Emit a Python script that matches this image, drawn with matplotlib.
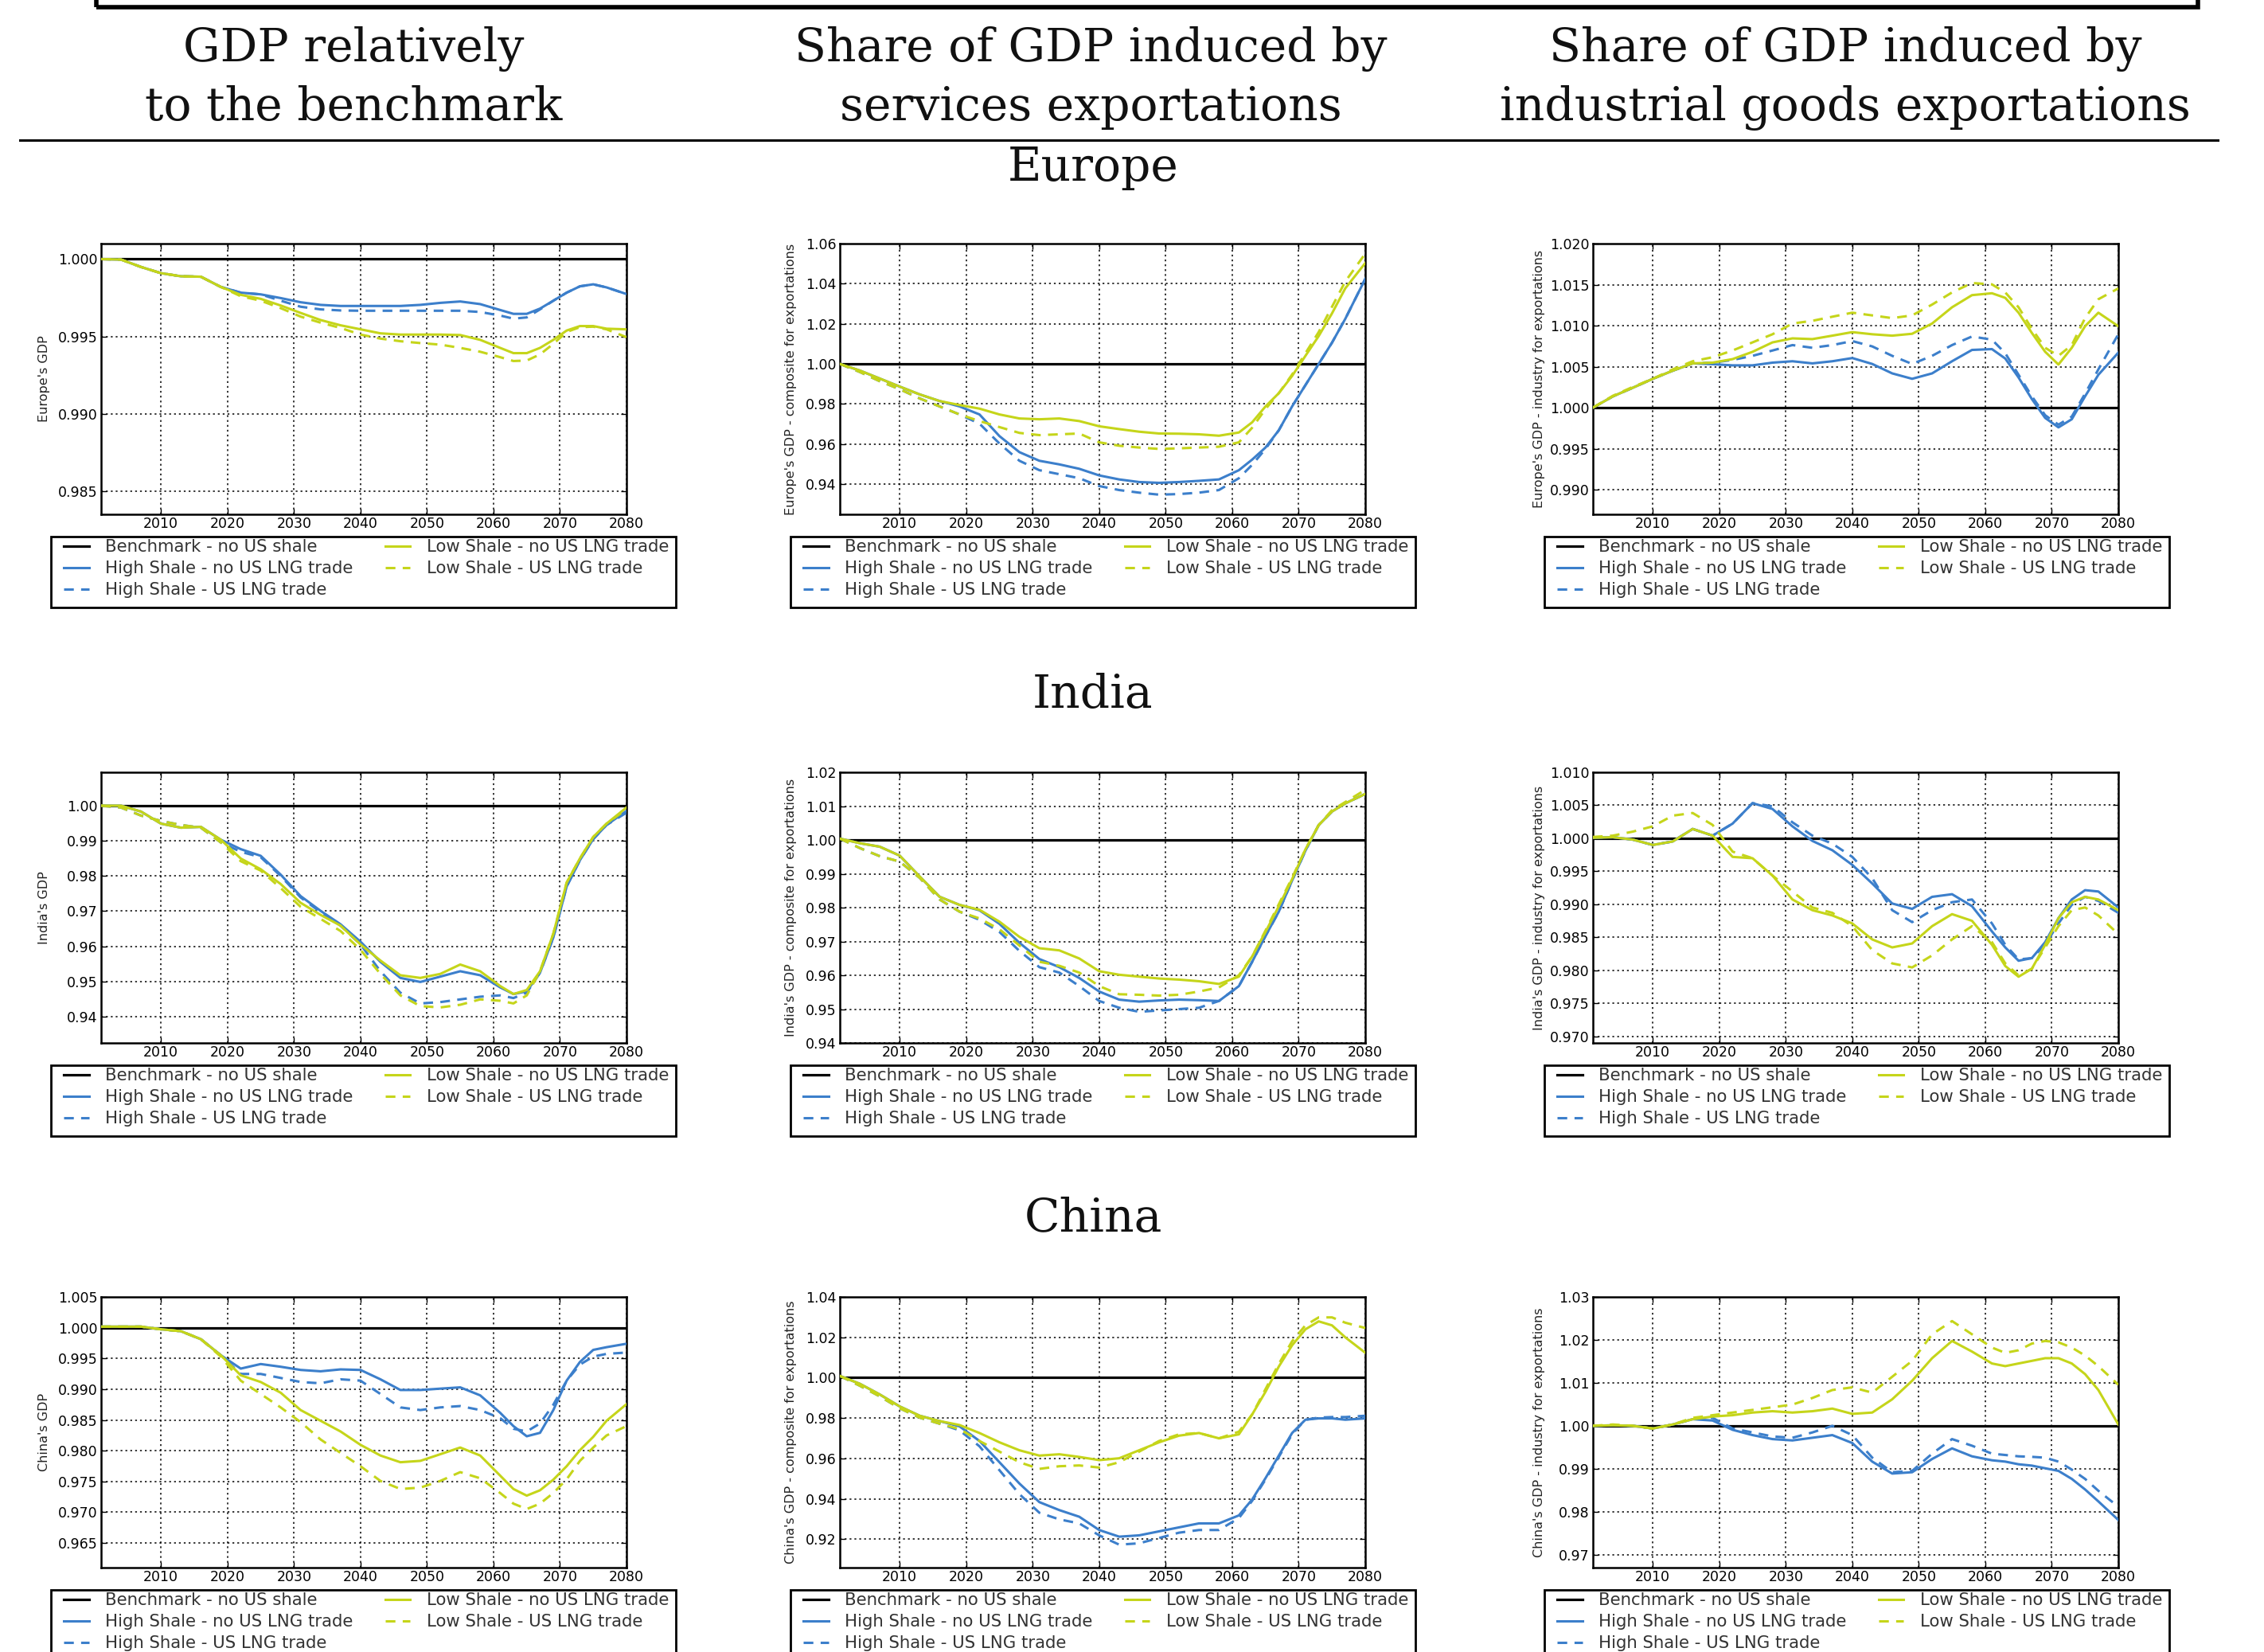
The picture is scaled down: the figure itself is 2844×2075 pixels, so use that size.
import matplotlib
matplotlib.use("Agg")
import matplotlib.pyplot as plt
from matplotlib.patches import Rectangle
from matplotlib.lines import Line2D
from matplotlib.ticker import FixedLocator, FormatStrFormatter

W, H, DPI = 2844, 2075, 100

# ---------------------------------------------------------------- data
years = [2001, 2004, 2007, 2010, 2013, 2016, 2019, 2022, 2025, 2028,
         2031, 2034, 2037, 2040, 2043, 2046, 2049, 2052, 2055, 2058,
         2061, 2063, 2065, 2067, 2069, 2071, 2073, 2075, 2077, 2080]
year_ticks = [2010, 2020, 2030, 2040, 2050, 2060, 2070, 2080]
benchmark_level = 1.0

series_labels = ["Benchmark - no US shale",
                 "High Shale - no US LNG trade",
                 "High Shale - US LNG trade",
                 "Low Shale - no US LNG trade",
                 "Low Shale - US LNG trade"]

# Europe - GDP relative to benchmark
eu_gdp_high = [1.0000, 0.99997, 0.99949, 0.99909, 0.99889, 0.99886, 0.99820, 0.99783, 0.99772, 0.99748,
               0.99721, 0.99704, 0.99697, 0.99697, 0.99697, 0.99697, 0.99704, 0.99717, 0.99726, 0.99709,
               0.99671, 0.99646, 0.99646, 0.99680, 0.99731, 0.99783, 0.99824, 0.99837, 0.99817, 0.99774]
eu_gdp_high_lng = [1.0000, 0.99997, 0.99949, 0.99909, 0.99889, 0.99886, 0.99820, 0.99783, 0.99772, 0.99731,
                   0.99692, 0.99675, 0.99668, 0.99666, 0.99666, 0.99666, 0.99666, 0.99666, 0.99666, 0.99658,
                   0.99635, 0.99615, 0.99623, 0.99675, 0.99731, 0.99783, 0.99824, 0.99837, 0.99817, 0.99774]
eu_gdp_low = [1.0000, 0.99997, 0.99949, 0.99909, 0.99889, 0.99886, 0.99820, 0.99769, 0.99743, 0.99700,
              0.99652, 0.99606, 0.99572, 0.99546, 0.99520, 0.99512, 0.99512, 0.99512, 0.99509, 0.99478,
              0.99426, 0.99392, 0.99392, 0.99426, 0.99478, 0.99538, 0.99567, 0.99567, 0.99550, 0.99546]
eu_gdp_low_lng = [1.0000, 0.99997, 0.99949, 0.99909, 0.99889, 0.99886, 0.99820, 0.99760, 0.99731, 0.99683,
                  0.99628, 0.99589, 0.99555, 0.99512, 0.99486, 0.99469, 0.99457, 0.99447, 0.99426, 0.99401,
                  0.99366, 0.99341, 0.99344, 0.99384, 0.99452, 0.99529, 0.99560, 0.99563, 0.99546, 0.99495]

# Europe - composite for exportations (services)
eu_serv_high = [1.0, 0.9967, 0.9927, 0.9887, 0.9848, 0.9815, 0.9788, 0.9748, 0.9640, 0.9560,
                0.9517, 0.9499, 0.9477, 0.9444, 0.9424, 0.9411, 0.9407, 0.9411, 0.9417, 0.9424,
                0.9470, 0.9523, 0.9583, 0.9669, 0.9788, 0.9894, 1.0000, 1.0106, 1.0225, 1.0424]
eu_serv_high_lng = [1.0, 0.9960, 0.9914, 0.9874, 0.9828, 0.9788, 0.9748, 0.9702, 0.9603, 0.9517,
                    0.9470, 0.9450, 0.9430, 0.9391, 0.9371, 0.9358, 0.9348, 0.9351, 0.9358, 0.9371,
                    0.9430, 0.9497, 0.9576, 0.9669, 0.9788, 0.9894, 1.0000, 1.0106, 1.0225, 1.0424]
eu_serv_low = [1.0, 0.9967, 0.9927, 0.9887, 0.9848, 0.9815, 0.9795, 0.9777, 0.9748, 0.9728,
               0.9724, 0.9728, 0.9715, 0.9689, 0.9675, 0.9662, 0.9653, 0.9652, 0.9649, 0.9642,
               0.9658, 0.9709, 0.9788, 0.9854, 0.9940, 1.0040, 1.0139, 1.0252, 1.0377, 1.0503]
eu_serv_low_lng = [1.0, 0.9960, 0.9914, 0.9874, 0.9828, 0.9788, 0.9748, 0.9715, 0.9685, 0.9656,
                   0.9645, 0.9649, 0.9653, 0.9609, 0.9592, 0.9583, 0.9576, 0.9579, 0.9583, 0.9587,
                   0.9609, 0.9682, 0.9775, 0.9854, 0.9947, 1.0053, 1.0159, 1.0285, 1.0411, 1.0550]

# Europe - industry for exportations
eu_ind_high = [1.0, 1.00138, 1.00243, 1.00352, 1.00451, 1.00540, 1.00530, 1.00516, 1.00516, 1.00549,
               1.00566, 1.00540, 1.00566, 1.00605, 1.00533, 1.00418, 1.00352, 1.00418, 1.00566, 1.00704,
               1.00714, 1.00599, 1.00368, 1.00105, 0.99875, 0.99760, 0.99859, 1.00138, 1.00401, 1.00671]
eu_ind_high_lng = [1.0, 1.00138, 1.00243, 1.00352, 1.00451, 1.00540, 1.00549, 1.00582, 1.00632, 1.00697,
                   1.00763, 1.00730, 1.00763, 1.00812, 1.00747, 1.00632, 1.00533, 1.00632, 1.00763, 1.00868,
                   1.00829, 1.00664, 1.00401, 1.00138, 0.99908, 0.99793, 0.99891, 1.00171, 1.00467, 1.00895]
eu_ind_low = [1.0, 1.00138, 1.00243, 1.00352, 1.00451, 1.00540, 1.00549, 1.00592, 1.00681, 1.00796,
              1.00845, 1.00836, 1.00878, 1.00921, 1.00895, 1.00878, 1.00901, 1.01026, 1.01224, 1.01372,
              1.01395, 1.01339, 1.01158, 1.00911, 1.00681, 1.00526, 1.00730, 1.00993, 1.01158, 1.00993]
eu_ind_low_lng = [1.0, 1.00145, 1.00253, 1.00352, 1.00467, 1.00566, 1.00615, 1.00697, 1.00796, 1.00895,
                  1.01026, 1.01059, 1.01109, 1.01158, 1.01125, 1.01092, 1.01125, 1.01257, 1.01405, 1.01520,
                  1.01503, 1.01405, 1.01224, 1.00961, 1.00730, 1.00632, 1.00763, 1.01092, 1.01322, 1.01454]

# India - GDP relative to benchmark
in_gdp_high = [1.0, 1.0, 0.99832, 0.99489, 0.99374, 0.99397, 0.99031, 0.98763, 0.98573, 0.98038,
               0.97427, 0.97008, 0.96626, 0.96130, 0.95557, 0.95100, 0.94985, 0.95137, 0.95290, 0.95176,
               0.94832, 0.94641, 0.94718, 0.95250, 0.96250, 0.97700, 0.98450, 0.99050, 0.99450, 0.99850]
in_gdp_high_lng = [1.0, 0.99947, 0.99718, 0.99565, 0.99450, 0.99374, 0.98954, 0.98687, 0.98534, 0.98000,
                   0.97390, 0.96970, 0.96588, 0.96053, 0.95290, 0.94679, 0.94374, 0.94412, 0.94489, 0.94565,
                   0.94603, 0.94527, 0.94679, 0.95250, 0.96250, 0.97700, 0.98450, 0.99050, 0.99450, 0.99800]
in_gdp_low = [1.0, 1.0, 0.99832, 0.99489, 0.99374, 0.99397, 0.99031, 0.98496, 0.98191, 0.97771,
              0.97237, 0.96893, 0.96588, 0.96053, 0.95595, 0.95176, 0.95100, 0.95214, 0.95481, 0.95290,
              0.94870, 0.94641, 0.94756, 0.95290, 0.96360, 0.97810, 0.98500, 0.99110, 0.99489, 0.99947]
in_gdp_low_lng = [1.0, 0.99947, 0.99718, 0.99565, 0.99450, 0.99374, 0.98954, 0.98420, 0.98153, 0.97656,
                  0.97122, 0.96779, 0.96435, 0.95901, 0.95214, 0.94603, 0.94298, 0.94260, 0.94336, 0.94489,
                  0.94450, 0.94374, 0.94603, 0.95290, 0.96360, 0.97810, 0.98500, 0.99110, 0.99489, 0.99900]

# India - composite for exportations (services)
in_serv_high = [1.0004, 0.99904, 0.9980, 0.99536, 0.9892, 0.9832, 0.9808, 0.9792, 0.9752, 0.9696,
                0.9648, 0.9624, 0.9592, 0.9552, 0.9528, 0.9522, 0.95256, 0.9528, 0.95264, 0.9524,
                0.9568, 0.9640, 0.9716, 0.9788, 0.9880, 0.9968, 1.0044, 1.0084, 1.0108, 1.0136]
in_serv_high_lng = [1.0004, 0.9976, 0.9952, 0.9936, 0.9888, 0.9824, 0.9788, 0.9764, 0.9728, 0.9672,
                    0.9624, 0.9608, 0.9568, 0.9524, 0.9504, 0.9492, 0.9496, 0.9500, 0.9504, 0.9524,
                    0.9568, 0.9640, 0.9716, 0.9788, 0.9880, 0.9968, 1.0044, 1.0084, 1.0108, 1.0136]
in_serv_low = [1.0004, 0.99904, 0.9980, 0.99536, 0.9892, 0.9832, 0.9808, 0.97936, 0.97584, 0.97136,
               0.9680, 0.96736, 0.96496, 0.9612, 0.96016, 0.9596, 0.95904, 0.95872, 0.95824, 0.95744,
               0.9596, 0.9656, 0.9728, 0.9804, 0.9884, 0.9972, 1.0044, 1.0084, 1.0108, 1.0136]
in_serv_low_lng = [1.0004, 0.9976, 0.9952, 0.9936, 0.9888, 0.9824, 0.9788, 0.9768, 0.9736, 0.9688,
                   0.9640, 0.9628, 0.9608, 0.9568, 0.9544, 0.95424, 0.9540, 0.95424, 0.9552, 0.9564,
                   0.9600, 0.9656, 0.9732, 0.9810, 0.9888, 0.9972, 1.0044, 1.0088, 1.0112, 1.0148]

# India - industry for exportations
in_ind_high = [1.00008, 1.00016, 0.99980, 0.99899, 0.99952, 1.00141, 1.00040, 1.00222, 1.00532, 1.00444,
               1.00181, 0.99960, 0.99819, 0.99597, 0.99315, 0.99012, 0.98931, 0.99113, 0.99153, 0.98972,
               0.98589, 0.98347, 0.98145, 0.98185, 0.98427, 0.98790, 0.99073, 0.99214, 0.99194, 0.98952]
in_ind_high_lng = [1.00008, 1.00016, 0.99980, 0.99899, 0.99952, 1.00141, 1.00040, 1.00222, 1.00532, 1.00484,
                   1.00242, 1.00040, 0.99919, 0.99718, 0.99395, 0.98911, 0.98730, 0.98911, 0.99032, 0.99073,
                   0.98710, 0.98387, 0.98165, 0.98185, 0.98387, 0.98710, 0.98992, 0.99113, 0.99052, 0.98871]
in_ind_low = [1.00008, 1.00016, 0.99980, 0.99899, 0.99952, 1.00141, 1.00040, 0.99718, 0.99698, 0.99435,
              0.99073, 0.98911, 0.98831, 0.98710, 0.98468, 0.98347, 0.98407, 0.98669, 0.98851, 0.98750,
              0.98387, 0.98065, 0.97903, 0.98024, 0.98387, 0.98790, 0.99032, 0.99113, 0.99073, 0.98911]
in_ind_low_lng = [1.00020, 1.00040, 1.00101, 1.00181, 1.00343, 1.00383, 1.00202, 0.99798, 0.99698, 0.99435,
                  0.99194, 0.98952, 0.98871, 0.98669, 0.98306, 0.98105, 0.98044, 0.98226, 0.98468, 0.98669,
                  0.98427, 0.98105, 0.97923, 0.98024, 0.98347, 0.98669, 0.98911, 0.98952, 0.98831, 0.98548]

# China - GDP relative to benchmark
cn_gdp_high = [1.00017, 1.00017, 1.00017, 0.99974, 0.99943, 0.99813, 0.99552, 0.99335, 0.99409, 0.99365,
               0.99313, 0.99291, 0.99322, 0.99313, 0.99161, 0.98987, 0.98987, 0.99009, 0.99030, 0.98900,
               0.98617, 0.98400, 0.98235, 0.98291, 0.98661, 0.99139, 0.99443, 0.99639, 0.99683, 0.99739]
cn_gdp_high_lng = [1.00017, 1.00017, 1.00017, 0.99974, 0.99943, 0.99813, 0.99552, 0.99248, 0.99248, 0.99183,
                   0.99117, 0.99096, 0.99161, 0.99139, 0.98922, 0.98704, 0.98661, 0.98704, 0.98726, 0.98661,
                   0.98530, 0.98357, 0.98313, 0.98443, 0.98748, 0.99139, 0.99400, 0.99530, 0.99574, 0.99596]
cn_gdp_low = [1.00017, 1.00017, 1.00017, 0.99974, 0.99943, 0.99813, 0.99552, 0.99226, 0.99117, 0.98943,
              0.98661, 0.98487, 0.98313, 0.98096, 0.97922, 0.97813, 0.97835, 0.97943, 0.98052, 0.97922,
              0.97596, 0.97378, 0.97270, 0.97357, 0.97530, 0.97748, 0.98009, 0.98226, 0.98487, 0.98757]
cn_gdp_low_lng = [1.00017, 1.00017, 1.00017, 0.99974, 0.99943, 0.99813, 0.99530, 0.99139, 0.98922, 0.98704,
                  0.98465, 0.98183, 0.97965, 0.97748, 0.97509, 0.97378, 0.97400, 0.97509, 0.97652, 0.97552,
                  0.97313, 0.97140, 0.97052, 0.97140, 0.97313, 0.97535, 0.97835, 0.98052, 0.98248, 0.98400]

# China - composite for exportations (services)
cn_serv_high = [1.0009, 0.99700, 0.99171, 0.98579, 0.98118, 0.97855, 0.97592, 0.96868, 0.95816, 0.94763,
                0.93842, 0.93447, 0.93118, 0.92460, 0.92132, 0.92197, 0.92395, 0.92592, 0.92789, 0.92789,
                0.93184, 0.93974, 0.95026, 0.96145, 0.97263, 0.97921, 0.97987, 0.97987, 0.97921, 0.97987]
cn_serv_high_lng = [1.0009, 0.99605, 0.99079, 0.98487, 0.98026, 0.97724, 0.97395, 0.96605, 0.95421, 0.94237,
                    0.93316, 0.92987, 0.92789, 0.92197, 0.91737, 0.91803, 0.92066, 0.92329, 0.92461, 0.92461,
                    0.93053, 0.93908, 0.94961, 0.96079, 0.97197, 0.97921, 0.98026, 0.98053, 0.98053, 0.98118]
cn_serv_low = [1.0009, 0.99700, 0.99171, 0.98579, 0.98118, 0.97855, 0.97658, 0.97263, 0.96803, 0.96408,
               0.96145, 0.96211, 0.96079, 0.95921, 0.96013, 0.96408, 0.96803, 0.97132, 0.97263, 0.97000,
               0.97197, 0.98184, 0.99303, 1.00553, 1.01605, 1.02395, 1.02790, 1.02592, 1.02000, 1.01237]
cn_serv_low_lng = [1.0009, 0.99605, 0.99079, 0.98487, 0.98026, 0.97724, 0.97461, 0.96868, 0.96342, 0.95816,
                   0.95487, 0.95618, 0.95658, 0.95553, 0.95816, 0.96342, 0.96868, 0.97197, 0.97263, 0.97000,
                   0.97329, 0.98184, 0.99434, 1.00684, 1.01803, 1.02592, 1.02987, 1.02987, 1.02724, 1.02461]

# China - industry for exportations
cn_ind_high = [1.0, 1.00012, 1.0, 0.99938, 1.00031, 1.00154, 1.00123, 0.99907, 0.99784, 0.99691,
               0.99660, 0.99722, 0.99784, 0.99599, 0.99167, 0.98889, 0.98920, 0.99228, 0.99475, 0.99290,
               0.99198, 0.99167, 0.99105, 0.99074, 0.99012, 0.98951, 0.98765, 0.98519, 0.98241, 0.97809]
cn_ind_high_lng = [1.0, 1.00012, 1.0, 0.99938, 1.00031, 1.00154, 1.00185, 0.99938, 0.99846, 0.99753,
                   0.99722, 0.99846, 1.00000, 0.99784, 0.99259, 0.98920, 0.98951, 0.99352, 0.99691, 0.99537,
                   0.99352, 0.99321, 0.99290, 0.99278, 0.99259, 0.99167, 0.98981, 0.98765, 0.98488, 0.98117]
cn_ind_low = [1.0, 1.00012, 1.0, 0.99938, 1.00031, 1.00154, 1.00216, 1.00247, 1.00309, 1.00340,
              1.00309, 1.00340, 1.00401, 1.00278, 1.00309, 1.00617, 1.01049, 1.01574, 1.01975, 1.01728,
              1.01451, 1.01389, 1.01451, 1.01512, 1.01574, 1.01574, 1.01451, 1.01204, 1.00833, 1.00031]
cn_ind_low_lng = [1.0, 1.00031, 1.0, 0.99938, 1.00031, 1.00185, 1.00247, 1.00309, 1.00370, 1.00432,
                  1.00494, 1.00648, 1.00833, 1.00895, 1.00772, 1.01142, 1.01512, 1.02130, 1.02438, 1.02130,
                  1.01821, 1.01698, 1.01759, 1.01914, 1.01975, 1.01944, 1.01821, 1.01636, 1.01389, 1.00957]

# y tick values for each panel
eu_gdp_ticks = [0.985, 0.990, 0.995, 1.000]
eu_serv_ticks = [0.94, 0.96, 0.98, 1.00, 1.02, 1.04, 1.06]
eu_ind_ticks = [0.990, 0.995, 1.000, 1.005, 1.010, 1.015, 1.020]
in_gdp_ticks = [0.94, 0.95, 0.96, 0.97, 0.98, 0.99, 1.00, 1.01]
in_serv_ticks = [0.94, 0.95, 0.96, 0.97, 0.98, 0.99, 1.00, 1.01, 1.02]
in_ind_ticks = [0.970, 0.975, 0.980, 0.985, 0.990, 0.995, 1.000, 1.005, 1.010]
cn_gdp_ticks = [0.965, 0.970, 0.975, 0.980, 0.985, 0.990, 0.995, 1.000, 1.005]
cn_serv_ticks = [0.92, 0.94, 0.96, 0.98, 1.00, 1.02, 1.04]
cn_ind_ticks = [0.97, 0.98, 0.99, 1.00, 1.01, 1.02, 1.03]

column_titles = ["GDP relatively\nto the benchmark",
                 "Share of GDP induced by\nservices exportations",
                 "Share of GDP induced by\nindustrial goods exportations"]
region_names = ["Europe", "India", "China"]

# (row, col, series, y label, y limits, y ticks, tick format)
panels = [
    (0, 0, (eu_gdp_high, eu_gdp_high_lng, eu_gdp_low, eu_gdp_low_lng),
     "Europe's GDP", (0.9835, 1.001), eu_gdp_ticks, "%.3f"),
    (0, 1, (eu_serv_high, eu_serv_high_lng, eu_serv_low, eu_serv_low_lng),
     "Europe's GDP - composite for exportations", (0.925, 1.06), eu_serv_ticks, "%.2f"),
    (0, 2, (eu_ind_high, eu_ind_high_lng, eu_ind_low, eu_ind_low_lng),
     "Europe's GDP - industry for exportations", (0.987, 1.020), eu_ind_ticks, "%.3f"),
    (1, 0, (in_gdp_high, in_gdp_high_lng, in_gdp_low, in_gdp_low_lng),
     "India's GDP", (0.9325, 1.0095), in_gdp_ticks, "%.2f"),
    (1, 1, (in_serv_high, in_serv_high_lng, in_serv_low, in_serv_low_lng),
     "India's GDP - composite for exportations", (0.94, 1.02), in_serv_ticks, "%.2f"),
    (1, 2, (in_ind_high, in_ind_high_lng, in_ind_low, in_ind_low_lng),
     "India's GDP - industry for exportations", (0.969, 1.010), in_ind_ticks, "%.3f"),
    (2, 0, (cn_gdp_high, cn_gdp_high_lng, cn_gdp_low, cn_gdp_low_lng),
     "China's GDP", (0.961, 1.005), cn_gdp_ticks, "%.3f"),
    (2, 1, (cn_serv_high, cn_serv_high_lng, cn_serv_low, cn_serv_low_lng),
     "China's GDP - composite for exportations", (0.906, 1.04), cn_serv_ticks, "%.2f"),
    (2, 2, (cn_ind_high, cn_ind_high_lng, cn_ind_low, cn_ind_low_lng),
     "China's GDP - industry for exportations", (0.967, 1.030), cn_ind_ticks, "%.2f"),
]

# ---------------------------------------------------------------- layout (pixels)
col_left = [127, 1055, 2001]
col_width = 660
row_top = [306, 970, 1629]
row_height = 340
legend_left = [64, 993, 1940]
legend_width = 785
legend_height = 89
legend_gap = 28
ylabel_offset = [-64, -54, -60]
title_x = [444, 1370, 2318]
region_x = 1373
region_y = [211, 873, 1531]

BLUE = "#3c7fcb"
GREEN = "#c5d51a"
DASH = (0, (4, 3))
LW = 2.2

SERIF = "DejaVu Serif"


def fx(px):
    return px / W


def fy(py):
    return 1 - py / H


fig = plt.figure(figsize=(W / DPI, H / DPI), dpi=DPI)
fig.patch.set_facecolor("white")

# frame remnant across the top
fig.patches.append(Rectangle((fx(121), fy(9)), fx(2761) - fx(121), 0.05,
                             transform=fig.transFigure, fill=False,
                             edgecolor="black", linewidth=4, clip_on=False))

# column headings and separator
for x, t in zip(title_x, column_titles):
    top, bottom = t.split("\n")
    fig.text(fx(x), fy(62), top, ha="center", va="center",
             fontsize=42, family=SERIF, color="#111111")
    fig.text(fx(x), fy(135), bottom, ha="center", va="center",
             fontsize=42, family=SERIF, color="#111111")
fig.add_artist(Line2D([fx(25), fx(2786)], [fy(176), fy(176)],
                      transform=fig.transFigure, color="black", linewidth=2.2))

for y, name in zip(region_y, region_names):
    fig.text(fx(region_x), fy(y), name, ha="center", va="center",
             fontsize=42, family=SERIF, color="#111111")

styles = [
    dict(color=BLUE, linestyle="-"),
    dict(color=BLUE, linestyle=DASH),
    dict(color=GREEN, linestyle="-"),
    dict(color=GREEN, linestyle=DASH),
]

for row, col, series, ylabel, ylim, yticks, fmt in panels:
    left = col_left[col]
    top = row_top[row]
    ax = fig.add_axes([fx(left), fy(top + row_height),
                       col_width / W, row_height / H])

    handles = []
    h, = ax.plot([years[0], years[-1]], [benchmark_level, benchmark_level],
                 color="black", linewidth=2.3, zorder=3)
    handles.append(h)
    for vals, st in zip(series, styles):
        h, = ax.plot(years, vals, linewidth=LW, zorder=4, **st)
        handles.append(h)

    ax.set_xlim(2001, 2080)
    ax.set_ylim(*ylim)
    ax.xaxis.set_major_locator(FixedLocator(year_ticks))
    ax.yaxis.set_major_locator(FixedLocator(yticks))
    ax.yaxis.set_major_formatter(FormatStrFormatter(fmt))
    ax.grid(True, color="black", linestyle=(0, (1.5, 2.5)), linewidth=1.1)
    ax.tick_params(direction="in", top=True, right=True, length=5,
                   width=1, labelsize=12.5, colors="black")
    ax.tick_params(axis="x", pad=2)
    ax.tick_params(axis="y", pad=3)
    for sp in ax.spines.values():
        sp.set_linewidth(1.8)
    ax.set_ylabel(ylabel, fontsize=11.5, color="#222222")
    ax.yaxis.set_label_coords(ylabel_offset[col] / col_width, 0.5)

    # legend: frame box plus entries laid out inside it
    lx = legend_left[col]
    ly = top + row_height + legend_gap
    ax.add_patch(Rectangle((fx(lx), fy(ly + legend_height)),
                           legend_width / W, legend_height / H,
                           transform=fig.transFigure, facecolor="white",
                           edgecolor="black", linewidth=2.0, zorder=5,
                           clip_on=False))
    leg = ax.legend(handles, series_labels, ncol=2, loc="upper left",
                    bbox_to_anchor=(fx(lx + 16), fy(ly + 3) - 0.06,
                                    (legend_width - 25) / W, 0.06),
                    bbox_transform=fig.transFigure, mode="expand",
                    borderaxespad=0, borderpad=0, fontsize=15.3, frameon=False,
                    handlelength=1.5, handletextpad=0.95, labelspacing=0.33)
    leg.set_zorder(6)
    for txt in leg.get_texts():
        txt.set_color("#333333")

fig.savefig("out.png", dpi=DPI, facecolor="white")
